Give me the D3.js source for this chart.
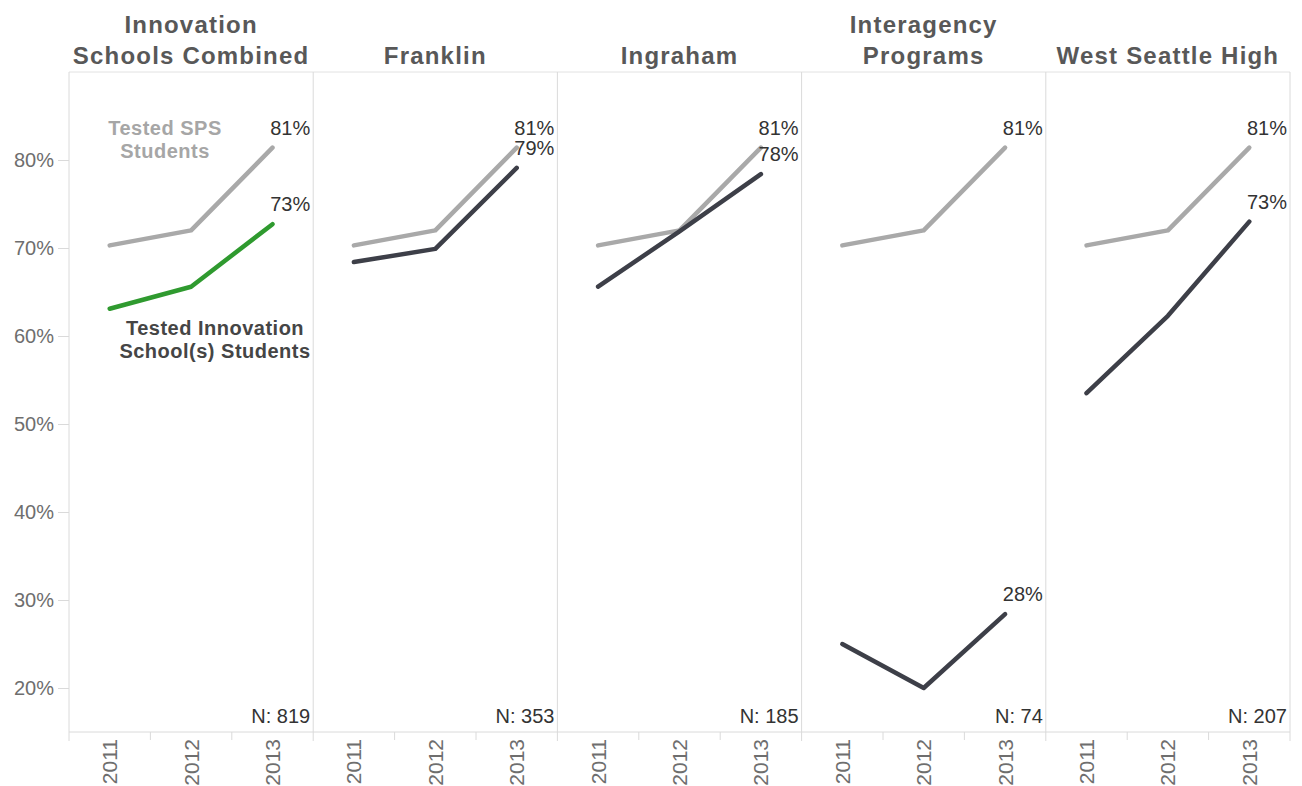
<!DOCTYPE html>
<html>
<head>
<meta charset="utf-8">
<script src="https://cdn.jsdelivr.net/npm/d3@7"></script>
<style>
  body { margin: 0; background: #fff; }
  svg { display: block; font-family: "Liberation Sans", Arial, sans-serif; }
</style>
</head>
<body>
<svg id="chart"></svg>
<script>
const years = ["2011", "2012", "2013"];
const panelTitles = [
  ["Innovation", "Schools Combined"],
  ["Franklin"],
  ["Ingraham"],
  ["Interagency", "Programs"],
  ["West Seattle High"]
];
const spsValues = [70.3, 72.0, 81.4];
const combinedValues = [63.1, 65.6, 72.7];
const franklinValues = [68.4, 69.9, 79.1];
const ingrahamValues = [65.6, 71.9, 78.4];
const interagencyValues = [25.0, 20.0, 28.4];
const westSeattleValues = [53.5, 62.3, 73.0];
const schoolSeries = [combinedValues, franklinValues, ingrahamValues, interagencyValues, westSeattleValues];
const nCounts = [819, 353, 185, 74, 207];
const yTicks = [20, 30, 40, 50, 60, 70, 80];

const W = 1302, H = 786;
const plotL = 69, plotR = 1290, plotT = 72, plotB = 732;

const svg = d3.select("#chart").attr("width", W).attr("height", H);

const panel = d3.scaleBand()
  .domain(d3.range(panelTitles.length))
  .range([plotL, plotR]);
const y = d3.scaleLinear().domain([15, 90]).range([plotB, plotT]);

const grey = "#dadada";
const pct = d => d3.format(".0f")(d) + "%";

// frame lines
svg.append("line")
  .attr("x1", plotL).attr("x2", plotR).attr("y1", plotT).attr("y2", plotT)
  .attr("stroke", "#e2e2e2");
svg.append("line")
  .attr("x1", plotL).attr("x2", plotR).attr("y1", plotB).attr("y2", plotB)
  .attr("stroke", grey);

// y axis
const yAxis = svg.append("g")
  .attr("transform", `translate(${plotL},0)`)
  .call(d3.axisLeft(y).tickValues(yTicks).tickFormat(d => d + "%").tickSize(11).tickPadding(4));
yAxis.select(".domain").remove();
yAxis.selectAll("line").attr("stroke", grey);
yAxis.selectAll("text")
  .attr("fill", "#6e6e6e")
  .style("font-size", "20px")
  .style("font-family", "Liberation Sans, Arial, sans-serif");

const line = d3.line();

panelTitles.forEach((title, i) => {
  const x0 = panel(i), pw = panel.bandwidth();
  const x = d3.scaleBand().domain(years).range([x0, x0 + pw]);
  const g = svg.append("g");

  // panel separators
  g.append("line")
    .attr("x1", x0).attr("x2", x0).attr("y1", plotT).attr("y2", plotB + 9)
    .attr("stroke", grey);
  if (i === panelTitles.length - 1) {
    g.append("line")
      .attr("x1", x0 + pw).attr("x2", x0 + pw).attr("y1", plotT).attr("y2", plotB + 9)
      .attr("stroke", grey);
  }
  // inner year ticks
  years.slice(1).forEach(yr => {
    g.append("line")
      .attr("x1", x(yr)).attr("x2", x(yr)).attr("y1", plotB).attr("y2", plotB + 8)
      .attr("stroke", grey);
  });

  // year labels
  years.forEach(yr => {
    const cx = x(yr) + x.bandwidth() / 2;
    g.append("text")
      .attr("transform", `translate(${cx},${plotB + 7}) rotate(-90)`)
      .attr("text-anchor", "end")
      .attr("dy", "0.36em")
      .attr("fill", "#6e6e6e")
      .style("font-size", "21px")
      .text(yr);
  });

  // title
  const tl = title.length;
  title.forEach((t, k) => {
    g.append("text")
      .attr("x", x0 + pw / 2)
      .attr("y", 64 - (tl - 1 - k) * 31)
      .attr("text-anchor", "middle")
      .attr("fill", "#585858")
      .style("font-size", "24px")
      .style("font-weight", 700)
      .style("letter-spacing", "1.2px")
      .text(t);
  });

  const px = yr => x(yr) + x.bandwidth() / 2;

  // SPS line
  const spsPts = years.map((yr, k) => [px(yr), y(spsValues[k])]);
  g.append("path")
    .attr("d", line(spsPts))
    .attr("fill", "none")
    .attr("stroke", "#a9a9a9")
    .attr("stroke-width", 4.5)
    .attr("stroke-linecap", "round")
    .attr("stroke-linejoin", "round");

  // school line
  const vals = schoolSeries[i];
  const pts = years.map((yr, k) => [px(yr), y(vals[k])]);
  g.append("path")
    .attr("d", line(pts))
    .attr("fill", "none")
    .attr("stroke", i === 0 ? "#2f9a2f" : "#3d3f48")
    .attr("stroke-width", 4.5)
    .attr("stroke-linecap", "round")
    .attr("stroke-linejoin", "round");

  // end labels
  const lx = x0 + pw - 3;
  [spsValues[2], vals[2]].forEach(v => {
    g.append("text")
      .attr("x", lx).attr("y", y(v) - 13)
      .attr("text-anchor", "end")
      .attr("fill", "#333")
      .style("font-size", "20px")
      .text(pct(v));
  });

  // N label
  g.append("text")
    .attr("x", lx).attr("y", 723)
    .attr("text-anchor", "end")
    .attr("fill", "#333")
    .style("font-size", "20px")
    .text(`N: ${nCounts[i]}`);
});

// annotations in first panel
const a = svg.append("g").style("font-size", "20px").style("font-weight", 700)
  .style("letter-spacing", "0.5px")
  .attr("text-anchor", "middle");
a.append("text").attr("x", 165).attr("y", 135).attr("fill", "#a6a6a6").text("Tested SPS");
a.append("text").attr("x", 165).attr("y", 158).attr("fill", "#a6a6a6").text("Students");
a.append("text").attr("x", 215).attr("y", 335).attr("fill", "#454545").text("Tested Innovation");
a.append("text").attr("x", 215).attr("y", 358).attr("fill", "#454545").text("School(s) Students");
</script>
</body>
</html>
